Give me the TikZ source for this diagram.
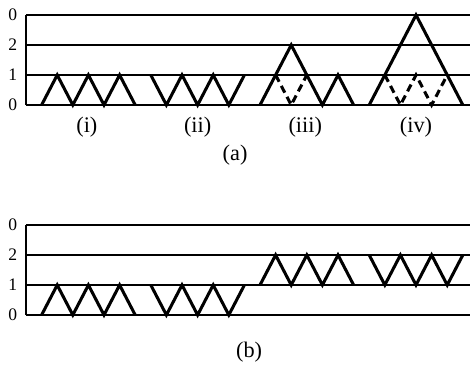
\documentclass[tikz,border=0pt]{standalone}
\usepackage{fontspec}
\setmainfont{Liberation Serif}
\usepackage{tikz}
\tikzset{trait/.style={line width=2.6pt}, fin/.style={line width=1.2pt},
	tirets/.style={trait,dash pattern=on 6.5pt off 4pt}}
\newcommand{\niveaux}[1]{\draw[fin] (0,#1) --++ (0,3);
	\draw[fin] (0,#1) -- (28.46,#1);
	\draw[fin] (0,#1+1) -- (28.46,#1+1);
	\draw[fin] (0,#1+2) -- (28.46,#1+2);
	\draw[fin] (0,#1+3) -- (28.46,#1+3)}
\newcommand{\dents}[2]{\draw[trait] (#1,#2) --++ (1,1) --++ (1,-1) --++ (1,1) --++ (1,-1) --++ (1,1) --++ (1,-1)}
\newcommand{\creux}[2]{\draw[trait] (#1,#2) --++ (1,-1) --++ (1,1) --++ (1,-1) --++ (1,1) --++ (1,-1) --++ (1,1)}
\newcommand{\chiffre}[0]{\fontsize{15}{15}\selectfont}
\newcommand{\legende}[0]{\fontsize{19}{19}\selectfont}

\begin{document}
\begin{tikzpicture}[x=0.468cm,y=0.9cm]
	\useasboundingbox (-1.667,3.5) rectangle (28.46,-8.7);
	% (a)
	\niveaux{0};
	\dents{1}{0};
	\creux{8}{1};
	\draw[trait] (15,0) --++ (2,2) --++ (2,-2) --++ (1,1) --++ (1,-1);
	\draw[tirets] (16,1) --++ (1,-1) --++ (1,1);
	\draw[trait] (22,0) --++ (3,3) --++ (3,-3);
	\draw[tirets] (23,1) --++ (1,-1) --++ (1,1) --++ (1,-1) --++ (1,1);
	\node (a3) at (-0.85,3) {\chiffre 0};
	\node (a2) at (-0.85,2) {\chiffre 2};
	\node (a1) at (-0.85,1) {\chiffre 1};
	\node (a0) at (-0.85,0) {\chiffre 0};
	\node (li) at (3.9,-0.73) {\legende (i)};
	\node (lii) at (11,-0.73) {\legende (ii)};
	\node (liii) at (17.9,-0.73) {\legende (iii)};
	\node (liv) at (25,-0.73) {\legende (iv)};
	\node (la) at (13.4,-1.67) {\legende (a)};
	% (b)
	\niveaux{-7};
	\dents{1}{-7};
	\creux{8}{-6};
	\dents{15}{-6};
	\creux{22}{-5};
	\node (b3) at (-0.85,-4) {\chiffre 0};
	\node (b2) at (-0.85,-5) {\chiffre 2};
	\node (b1) at (-0.85,-6) {\chiffre 1};
	\node (b0) at (-0.85,-7) {\chiffre 0};
	\node (lb) at (14.3,-8.25) {\legende (b)};
\end{tikzpicture}
\end{document}
